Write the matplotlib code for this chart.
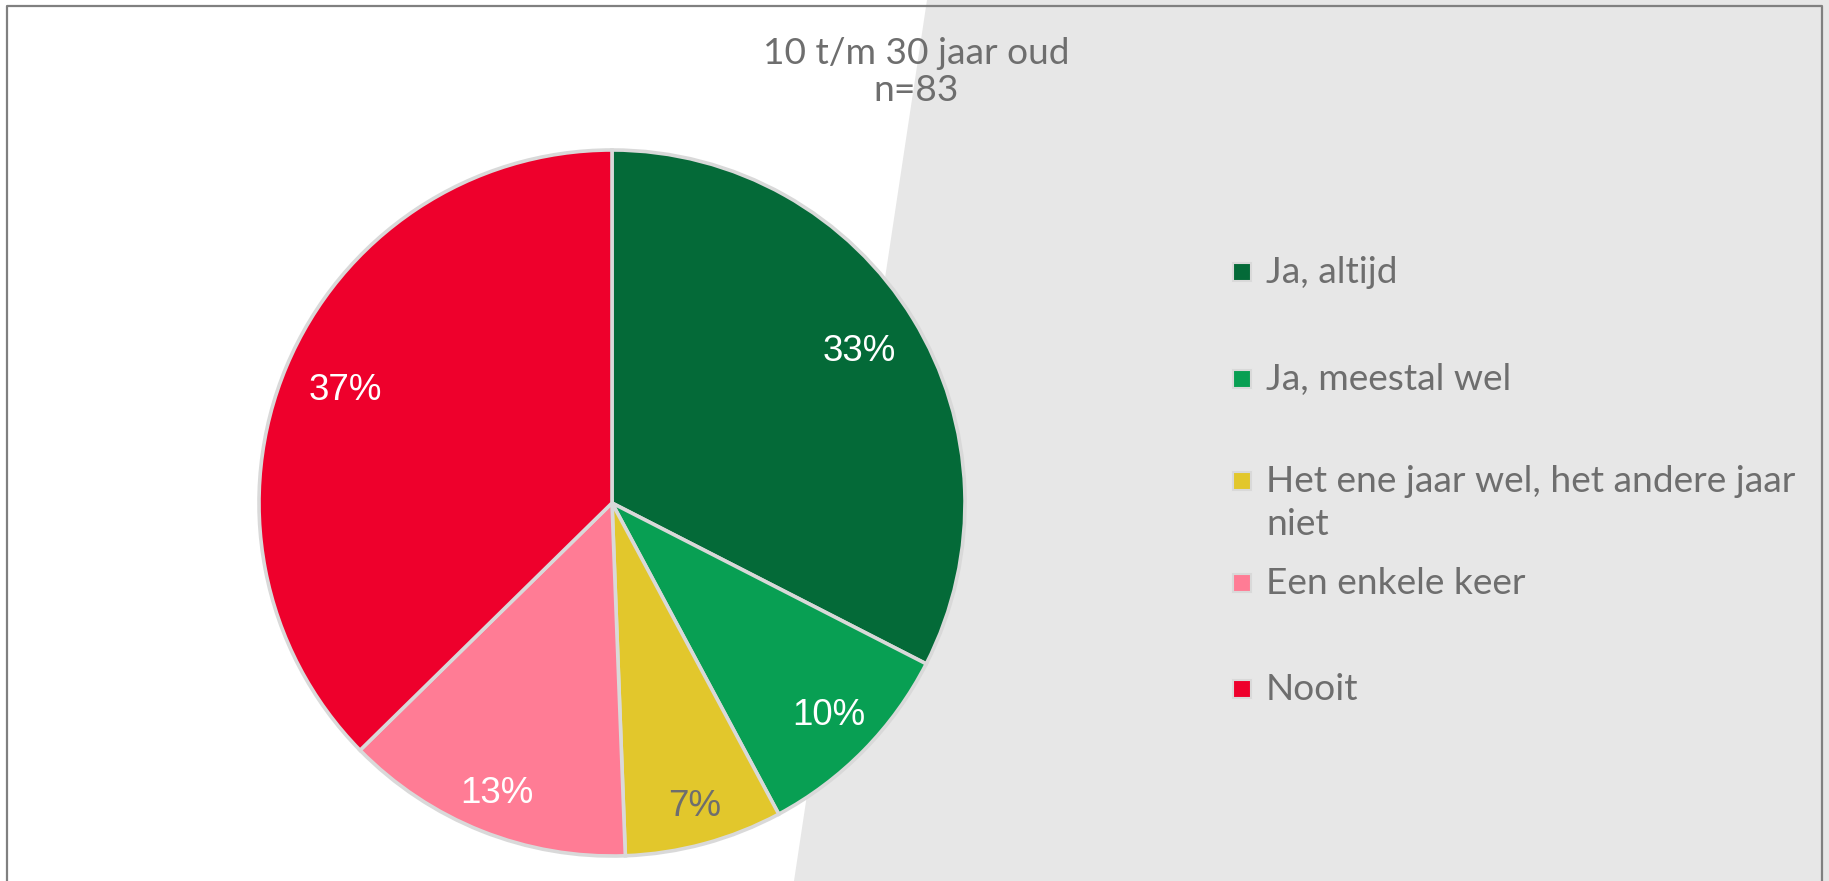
import numpy as np
import matplotlib.pyplot as plt
from matplotlib.patches import Polygon, Rectangle

# data (n = 83)
categories = ["Ja, altijd", "Ja, meestal wel", "Het ene jaar wel, het andere jaar\nniet",
              "Een enkele keer", "Nooit"]
counts = [27, 8, 6, 11, 31]
title = "10 t/m 30 jaar oud\nn=83"

colors = ["#046A38", "#089F53", "#E2C72C", "#FF7C95", "#EE002C"]
label_colors = ["white", "white", "#6E6E6E", "white", "white"]
label_dist = [0.82, 0.86, 0.89, 0.885, 0.82]
text_gray = "#6E6E6E"

W, H = 1829, 881
fig = plt.figure(figsize=(W / 100, H / 100), dpi=100)
fig.patch.set_facecolor("white")

# grey slanted panel on the right
fig.patches.append(Polygon([(927 / W, 1), (1, 1), (1, 0), (794 / W, 0)],
                           closed=True, transform=fig.transFigure,
                           facecolor="#E7E7E7", edgecolor="none", zorder=-10))
# frame (no bottom edge, picture is cut there)
fx0, fx1, fy1 = 7 / W, 1822 / W, 1 - 6 / H
fig.lines.append(plt.Line2D([fx0, fx0, fx1, fx1], [0, fy1, fy1, 0],
                            transform=fig.transFigure, color="#808080", lw=1.6,
                            zorder=5))

# pie axes: centre (612, 503) px, radius 353 px
cx, cy, r = 612, 503, 353
ax = fig.add_axes([(cx - r) / W, (H - cy - r) / H, 2 * r / W, 2 * r / H])
ax.set_zorder(1)
ax.set_facecolor("none")
wedges, texts = ax.pie(counts, colors=colors, startangle=90, counterclock=False,
                       radius=1.0,
                       wedgeprops=dict(edgecolor="#D9D9D9", linewidth=2.6))
ax.set_xlim(-1, 1)
ax.set_ylim(-1, 1)
ax.set_aspect("equal")
ax.axis("off")

total = sum(counts)
for w, c, lc, d in zip(wedges, counts, label_colors, label_dist):
    ang = np.deg2rad((w.theta1 + w.theta2) / 2)
    ax.text(d * np.cos(ang), d * np.sin(ang), "%d%%" % round(100 * c / total),
            ha="center", va="center", color=lc, fontsize=26.5,
            family="Liberation Sans")

fig.text(916 / W, 1 - 72 / H, title, ha="center", va="center", fontsize=26.7,
         family="Lato", color=text_gray, linespacing=1.18, zorder=3)

# legend, placed like the original
legend_y = [272, 379, 481, 583, 689]
for lab, col, y in zip(categories, colors, legend_y):
    fig.patches.append(Rectangle(((1242 - 9) / W, 1 - (y + 9) / H), 18 / W, 18 / H,
                                 transform=fig.transFigure, facecolor=col,
                                 edgecolor="#D9D9D9", linewidth=1.5, zorder=3))
    fig.text(1266 / W, 1 - (y - 16) / H, lab, ha="left", va="top", fontsize=26.7,
             family="Lato", color=text_gray, linespacing=1.37, zorder=3)

fig.savefig("out.png", dpi=100)
